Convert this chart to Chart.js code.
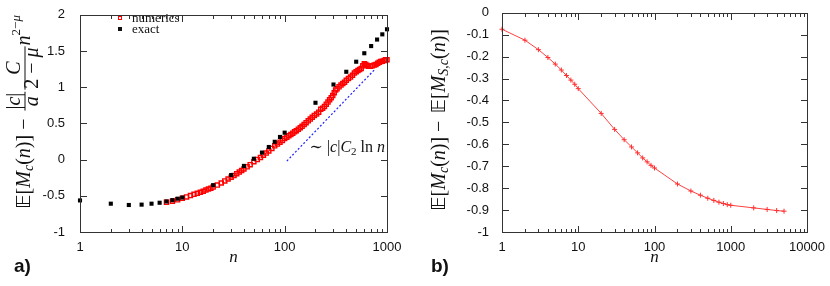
<!DOCTYPE html>
<html>
<head>
<meta charset="utf-8">
<script src="https://cdn.jsdelivr.net/npm/chart.js@4.4.0/dist/chart.umd.min.js"></script>
<style>
html, body { margin: 0; padding: 0; background: #fff; }
#wrap { position: relative; width: 830px; height: 286px; }
.panel { position: absolute; top: 0; width: 415px; height: 286px; }
.ln { position: absolute; background: #333; }
</style>
</head>
<body>
<div id="wrap">
  <div class="panel" id="panelA" style="left:0"><canvas id="chartA" width="415" height="286"></canvas></div>
  <div class="panel" id="panelB" style="left:415px"><canvas id="chartB" width="415" height="286"></canvas></div>
</div>
<script>
// panel a) — exact values (black squares)
const exactN = [1, 2, 3, 4, 5, 6, 7, 8, 9, 10, 20, 30, 40, 50, 60, 70, 80, 90, 100,
                200, 300, 400, 500, 600, 700, 800, 900, 1000];
const exactV = [-0.564, -0.609, -0.627, -0.622, -0.609, -0.596, -0.578, -0.56, -0.54, -0.524,
                -0.353, -0.213, -0.087, 0.012, 0.097, 0.174, 0.246, 0.313, 0.372,
                0.785, 1.037, 1.213, 1.352, 1.469, 1.568, 1.658, 1.73, 1.80];

// panel a) — numerics (red open squares)
const numN = [7, 8, 9, 10, 11, 12, 13, 14, 15, 16, 17, 18, 19, 20, 22, 24, 26, 28, 30, 32, 34, 36, 38, 40,
              43, 46, 50, 54, 58, 62, 66, 70, 75, 80, 85, 90, 95, 100, 105, 110, 115, 120, 125, 130,
              136, 142, 148, 155, 162, 170, 178, 186, 195, 205, 215, 225, 235, 245, 255, 265, 275, 285,
              295, 305, 315, 325, 340, 355, 370, 385, 400, 420, 440, 460, 480, 500, 520, 540, 560, 580,
              600, 620, 640, 660, 690, 720, 750, 780, 810, 840, 870, 900, 940, 970, 1000];
const numV = [-0.59, -0.575, -0.555, -0.535, -0.515, -0.497, -0.48, -0.466, -0.452, -0.437, -0.421, -0.407,
              -0.394, -0.38, -0.352, -0.323, -0.295, -0.268, -0.243, -0.218, -0.195, -0.172, -0.15, -0.13,
              -0.1, -0.07, -0.03, 0.0, 0.03, 0.06, 0.09, 0.12, 0.155, 0.19, 0.215, 0.24, 0.265, 0.29,
              0.31, 0.33, 0.345, 0.365, 0.383, 0.40, 0.42, 0.44, 0.46, 0.485, 0.51, 0.535, 0.56, 0.585,
              0.61, 0.63, 0.655, 0.695, 0.71, 0.735, 0.765, 0.795, 0.825, 0.855, 0.885, 0.925, 0.96, 0.98,
              1.005, 1.03, 1.05, 1.07, 1.095, 1.12, 1.14, 1.165, 1.195, 1.215, 1.23, 1.245, 1.26, 1.295,
              1.325, 1.315, 1.30, 1.29, 1.29, 1.295, 1.305, 1.315, 1.33, 1.345, 1.355, 1.36, 1.37, 1.38, 1.38];

// panel a) — ~ |c| C2 ln n guide (blue dotted)
const fitN = [105, 765];
const fitV = [-0.02, 1.25];

// panel b)
const diffN = [1, 2, 3, 4, 5, 6, 7, 8, 9, 10, 20, 30, 40, 50, 60, 70, 80, 90, 100,
               200, 300, 400, 500, 600, 700, 800, 900, 1000, 2000, 3000, 4000, 5000];
const diffV = [-0.075, -0.125, -0.168, -0.204, -0.234, -0.261, -0.286, -0.307, -0.326, -0.346,
               -0.459, -0.532, -0.579, -0.612, -0.639, -0.662, -0.68, -0.696, -0.708,
               -0.781, -0.813, -0.832, -0.846, -0.856, -0.864, -0.87, -0.875, -0.878,
               -0.89, -0.897, -0.902, -0.905];

// tick labels
const ticksAX = [1, 10, 100, 1000];
const ticksAY = [-1, -0.5, 0, 0.5, 1, 1.5, 2];
const ticksBX = [1, 10, 100, 1000, 10000];
const ticksBY = [-1, -0.9, -0.8, -0.7, -0.6, -0.5, -0.4, -0.3, -0.2, -0.1, 0];

const SERIF = '"Liberation Serif", "DejaVu Serif", serif';
const RM = sz => sz + 'px ' + SERIF;
const IT = sz => 'italic ' + sz + 'px ' + SERIF;
const BB = sz => sz + 'px "DejaVu Sans", sans-serif';
const INK = '#111';

Chart.defaults.font.family = '"Liberation Sans", Arial, sans-serif';
Chart.defaults.font.size = 13;
Chart.defaults.color = INK;

const pts = (xs, ys) => xs.map((x, i) => ({ x: x, y: ys[i] }));

function runWidth(ctx, parts) {
    let w = 0;
    parts.forEach(p => {
        if (p.num) {
            w += fracWidth(ctx, p);
        } else {
            ctx.font = p.f;
            w += ctx.measureText(p.t).width + (p.sp || 0);
        }
    });
    return w;
}

function fracWidth(ctx, p) {
    return Math.max(runWidth(ctx, p.num), runWidth(ctx, p.den)) + 4;
}

// draws pieces left to right from (x, y) baseline
function drawRun(ctx, parts, x, y) {
    parts.forEach(p => {
        if (p.num) {
            const w = fracWidth(ctx, p);
            const barY = y - 5;
            drawRun(ctx, p.num, x + (w - runWidth(ctx, p.num)) / 2, barY - 5);
            drawRun(ctx, p.den, x + (w - runWidth(ctx, p.den)) / 2, barY + 13);
            ctx.fillRect(x + 1, barY - 0.5, w - 2, 1);
            x += w;
        } else {
            ctx.font = p.f;
            ctx.fillText(p.t, x, y + (p.dy || 0));
            x += ctx.measureText(p.t).width + (p.sp || 0);
        }
    });
    return x;
}

// vertical label, centred on y = cy, baseline at x = bx
function drawVertical(ctx, parts, bx, cy) {
    const w = runWidth(ctx, parts);
    ctx.save();
    ctx.translate(bx, cy + w / 2);
    ctx.rotate(-Math.PI / 2);
    ctx.textBaseline = 'alphabetic';
    ctx.textAlign = 'left';
    drawRun(ctx, parts, 0, 0);
    ctx.restore();
}

// border and inward ticks as thin overlay divs, placed from the chart's scales
function addFrame(chart, panelId, xt, yt) {
    const panel = document.getElementById(panelId);
    const xs = chart.scales.x, ys = chart.scales.y;
    const L = Math.round(xs.getPixelForValue(xt[0]));
    const R = Math.round(xs.getPixelForValue(xt[xt.length - 1]));
    const T = Math.round(ys.getPixelForValue(yt[yt.length - 1]));
    const B = Math.round(ys.getPixelForValue(yt[0]));
    const line = (x, y, w, h) => {
        const d = document.createElement('div');
        d.className = 'ln';
        d.style.left = x + 'px'; d.style.top = y + 'px';
        d.style.width = w + 'px'; d.style.height = h + 'px';
        panel.appendChild(d);
    };
    line(L, T, R - L + 1, 1);
    line(L, B, R - L + 1, 1);
    line(L, T, 1, B - T + 1);
    line(R, T, 1, B - T + 1);
    xt.forEach(d => {
        for (let k = 1; k <= 9; k++) {
            const v = d * k;
            if (v > xt[xt.length - 1]) break;
            const px = Math.min(Math.round(xs.getPixelForValue(v)), R);
            const len = k === 1 ? 6 : 3;
            line(px, B - len, 1, len);
            line(px, T + 1, 1, len);
        }
    });
    yt.forEach(v => {
        const py = Math.min(Math.round(ys.getPixelForValue(v)), B);
        line(L + 1, py, 6, 1);
        line(R - 6, py, 6, 1);
    });
}

function scalesFor(xt, yt, yw, ypad) {
    return {
        x: {
            type: 'logarithmic', min: xt[0], max: xt[xt.length - 1],
            grid: { display: false }, border: { display: false },
            afterBuildTicks: s => { s.ticks = xt.map(v => ({ value: v })); },
            afterFit: s => { s.height = 54; },
            ticks: { padding: 0, maxRotation: 0, autoSkip: false, callback: v => String(v) }
        },
        y: {
            type: 'linear', min: yt[0], max: yt[yt.length - 1],
            grid: { display: false }, border: { display: false },
            afterBuildTicks: s => { s.ticks = yt.map(v => ({ value: v })); },
            afterFit: s => { s.width = yw; },
            ticks: { padding: ypad, autoSkip: false, callback: v => String(v) }
        }
    };
}

function decorA(chart) {
    const ctx = chart.ctx;
    ctx.save();
    ctx.fillStyle = INK;
    // legend
    ctx.strokeStyle = '#f00';
    ctx.lineWidth = 1;
    ctx.strokeRect(118.5, 16.5, 3, 3);
    ctx.fillRect(118, 27, 4, 4);
    ctx.font = RM(13);
    ctx.textBaseline = 'alphabetic';
    ctx.textAlign = 'left';
    ctx.fillText('numerics', 132, 22);
    ctx.fillText('exact', 132, 33);
    // guide annotation
    const ann = [
        { t: '∼ ', f: RM(16) }, { t: '|', f: RM(16) }, { t: 'c', f: IT(16) }, { t: '|', f: RM(16) },
        { t: 'C', f: IT(16) }, { t: '2', f: RM(11), dy: 3 }, { t: ' ln ', f: RM(16) }, { t: 'n', f: IT(16) }
    ];
    drawRun(ctx, ann, 385 - runWidth(ctx, ann), 152);
    // axis titles
    ctx.font = IT(17);
    ctx.textAlign = 'center';
    ctx.fillText('n', 233.5, 262);
    ctx.font = 'bold 19px "Liberation Sans", Arial, sans-serif';
    ctx.textAlign = 'left';
    ctx.fillText('a)', 14, 272);
    const ylab = [
        { t: '𝔼', f: BB(20) }, { t: '[', f: RM(20) }, { t: 'M', f: IT(20) }, { t: 'c', f: IT(14), dy: 3 },
        { t: '(', f: RM(20) }, { t: 'n', f: IT(20) }, { t: ')]', f: RM(20) }, { t: ' − ', f: RM(20), sp: 2 },
        { num: [{ t: '|', f: RM(20) }, { t: 'c', f: IT(20) }, { t: '|', f: RM(20) }], den: [{ t: 'a', f: IT(20) }] },
        { num: [{ t: 'C', f: IT(20) }], den: [{ t: '2 − ', f: RM(20) }, { t: 'μ', f: IT(20) }] },
        { t: 'n', f: IT(20) }, { t: '2−', f: RM(13), dy: -10 }, { t: 'μ', f: IT(13), dy: -10 }
    ];
    drawVertical(ctx, ylab, 30, 112);
    ctx.restore();
}

function decorB(chart) {
    const ctx = chart.ctx;
    ctx.save();
    ctx.fillStyle = INK;
    ctx.textBaseline = 'alphabetic';
    ctx.font = IT(17);
    ctx.textAlign = 'center';
    ctx.fillText('n', 239.5, 262);
    ctx.font = 'bold 19px "Liberation Sans", Arial, sans-serif';
    ctx.textAlign = 'left';
    ctx.fillText('b)', 16, 272);
    const ylab = [
        { t: '𝔼', f: BB(20) }, { t: '[', f: RM(20) }, { t: 'M', f: IT(20) }, { t: 'c', f: IT(14), dy: 3 },
        { t: '(', f: RM(20) }, { t: 'n', f: IT(20) }, { t: ')]', f: RM(20) }, { t: ' − ', f: RM(20), sp: 2 },
        { t: '𝔼', f: BB(20) }, { t: '[', f: RM(20) }, { t: 'M', f: IT(20) }, { t: 'S,c', f: IT(14), dy: 3 },
        { t: '(', f: RM(20) }, { t: 'n', f: IT(20) }, { t: ')]', f: RM(20) }
    ];
    drawVertical(ctx, ylab, 30, 120);
    ctx.restore();
}

const baseOpts = {
    responsive: false,
    animation: false,
    events: [],
    plugins: { legend: { display: false }, tooltip: { enabled: false } }
};

const chartA = new Chart(document.getElementById('chartA'), {
    type: 'scatter',
    data: {
        datasets: [{
            data: pts(exactN, exactV),
            pointStyle: 'rect', radius: 2.9, backgroundColor: '#000', borderWidth: 0, clip: false
        }, {
            data: pts(numN, numV),
            pointStyle: 'rect', radius: 2.9, backgroundColor: 'rgba(0,0,0,0)',
            borderColor: '#ff0000', borderWidth: 1.4, clip: false
        }, {
            data: pts(fitN, fitV),
            showLine: true, borderColor: '#1f1fff', borderWidth: 1.2, borderDash: [2, 2],
            pointRadius: 0
        }]
    },
    options: Object.assign({}, baseOpts, {
        layout: { padding: { left: 0, right: 28, top: 9, bottom: 0 } },
        scales: scalesFor(ticksAX, ticksAY, 80, 7)
    })
});

const chartB = new Chart(document.getElementById('chartB'), {
    type: 'scatter',
    data: {
        datasets: [{
            data: pts(diffN, diffV),
            showLine: true, borderColor: '#ff4040', borderWidth: 1,
            pointStyle: 'cross', radius: 2.5, pointBorderColor: '#ff3030', pointBorderWidth: 1,
            clip: false
        }]
    },
    options: Object.assign({}, baseOpts, {
        layout: { padding: { left: 0, right: 23, top: 11, bottom: 0 } },
        scales: scalesFor(ticksBX, ticksBY, 87, 5)
    })
});

decorA(chartA);
decorB(chartB);
addFrame(chartA, 'panelA', ticksAX, ticksAY);
addFrame(chartB, 'panelB', ticksBX, ticksBY);
</script>
</body>
</html>
